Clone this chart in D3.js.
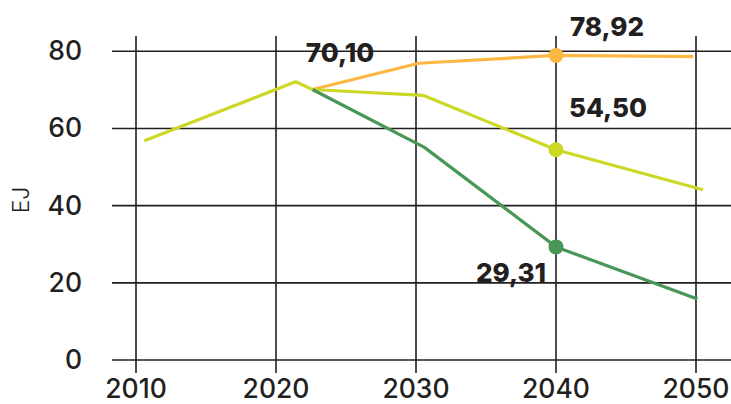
<!DOCTYPE html>
<html>
<head>
<meta charset="utf-8">
<script src="https://cdn.jsdelivr.net/npm/d3@7"></script>
<style>
  html, body { margin: 0; padding: 0; background: #fff; }
  svg { display: block; }
  .tick-label { font-family: "Inter", "Noto Sans", sans-serif; font-size: 26.5px; font-weight: 500; fill: #231f20; }
  .value-label { font-family: "Inter", "Noto Sans", sans-serif; font-size: 26px; font-weight: 800; fill: #231f20; }
  .axis-title { font-family: "Inter", "Noto Sans", sans-serif; font-size: 23px; font-weight: 300; fill: #231f20; }
</style>
</head>
<body>
<svg id="chart" width="731" height="404"></svg>
<script>
// Energy demand (EJ): history and three scenario paths
const xTicks = [2010, 2020, 2030, 2040, 2050];
const yTicks = [0, 20, 40, 60, 80];

const historyYears  = [2010.6, 2021.4, 2022.6];
const historyValues = [56.8, 72.1, 70.1];

const highYears  = [2022.6, 2030.2, 2040, 2049.8];
const highValues = [70.1, 76.9, 78.92, 78.6];

const midYears  = [2022.6, 2030.5, 2040, 2050.5];
const midValues = [70.1, 68.6, 54.5, 44.1];

const lowYears  = [2022.6, 2030.6, 2040, 2050.1];
const lowValues = [70.1, 55.1, 29.31, 15.8];

const colors = { high: "#fdb843", mid: "#cdd826", low: "#4a9558" };

const svg = d3.select("#chart");
const x = d3.scaleLinear().domain([2010, 2050]).range([136, 696]);
const y = d3.scaleLinear().domain([0, 80]).range([360, 51.3]);

// Grid
const grid = svg.append("g").attr("stroke", "#231f20").attr("stroke-width", 1.6);
grid.selectAll("line.h").data(yTicks).join("line")
  .attr("class", "h")
  .attr("x1", 112).attr("x2", 731)
  .attr("y1", d => y(d)).attr("y2", d => y(d));
grid.selectAll("line.v").data(xTicks).join("line")
  .attr("class", "v")
  .attr("x1", d => x(d)).attr("x2", d => x(d))
  .attr("y1", 36).attr("y2", 373);

// Tick labels
svg.append("g").selectAll("text").data(yTicks).join("text")
  .attr("class", "tick-label")
  .attr("x", 82).attr("y", d => y(d) + 9)
  .attr("text-anchor", "end")
  .text(d => d);
svg.append("g").selectAll("text").data(xTicks).join("text")
  .attr("class", "tick-label")
  .attr("x", d => x(d)).attr("y", 398)
  .attr("text-anchor", "middle")
  .text(d => d);

svg.append("text").attr("class", "axis-title")
  .attr("transform", "translate(29,200) rotate(-90)")
  .attr("text-anchor", "middle")
  .text("EJ");

// Lines
const line = d3.line().x(d => x(d[0])).y(d => y(d[1]));
const zip = (a, b) => a.map((v, i) => [v, b[i]]);

const series = [
  { pts: zip(highYears, highValues), color: colors.high },
  { pts: zip(midYears, midValues), color: colors.mid },
  { pts: zip(lowYears, lowValues), color: colors.low },
  { pts: zip(historyYears, historyValues), color: colors.mid }
];
svg.append("g").selectAll("path").data(series).join("path")
  .attr("d", d => line(d.pts))
  .attr("fill", "none")
  .attr("stroke", d => d.color)
  .attr("stroke-width", 3.2)
  .attr("stroke-linejoin", "round");

// Highlighted 2040 values
const marks = [
  { year: 2040, value: highValues[2], color: colors.high, lx: 607, ly: 36 },
  { year: 2040, value: midValues[2], color: colors.mid, lx: 608, ly: 117 },
  { year: 2040, value: lowValues[2], color: colors.low, lx: 511, ly: 282 }
];
svg.append("g").selectAll("circle").data(marks).join("circle")
  .attr("cx", d => x(d.year)).attr("cy", d => y(d.value))
  .attr("r", 7.5).attr("fill", d => d.color);

const fmt = v => v.toFixed(2).replace(".", ",");
const labels = [
  { text: fmt(historyValues[2]), lx: 340, ly: 62 },
  ...marks.map(m => ({ text: fmt(m.value), lx: m.lx, ly: m.ly }))
];
svg.append("g").selectAll("text").data(labels).join("text")
  .attr("class", "value-label")
  .attr("x", d => d.lx).attr("y", d => d.ly)
  .attr("text-anchor", "middle")
  .text(d => d.text);
</script>
</body>
</html>
